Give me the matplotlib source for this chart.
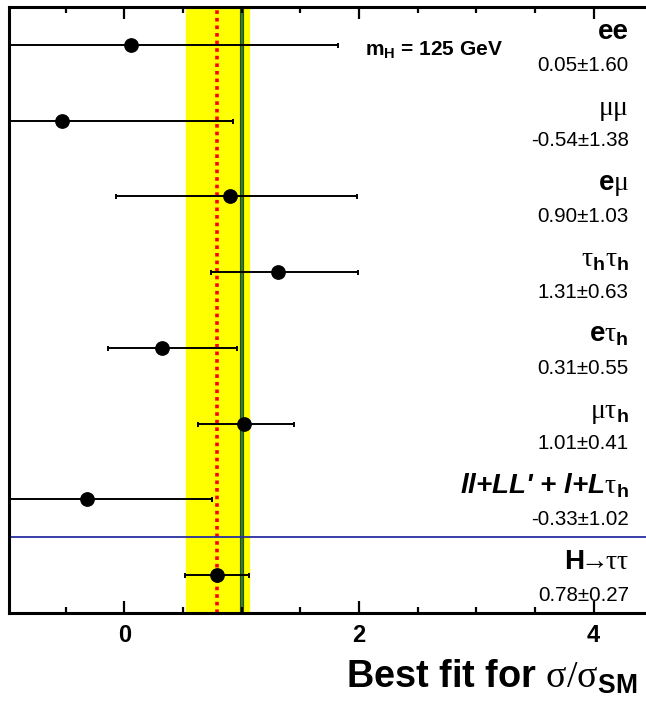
import numpy as np
import matplotlib
matplotlib.use("Agg")
import matplotlib.pyplot as plt
from matplotlib.ticker import MultipleLocator

plt.rcParams['font.family'] = ['Liberation Sans', 'DejaVu Sans']
plt.rcParams['mathtext.fontset'] = 'custom'
plt.rcParams['mathtext.rm'] = 'Liberation Sans'
plt.rcParams['mathtext.bf'] = 'Liberation Sans:bold'
plt.rcParams['mathtext.it'] = 'Liberation Sans:italic'
plt.rcParams['mathtext.sf'] = 'Liberation Serif'

# channels, top to bottom
names = [r"ee", r"$\mathsf{\mu\mu}$", r"e$\mathsf{\mu}$",
         r"$\mathsf{\tau}_{\mathbf{h}}\mathsf{\tau}_{\mathbf{h}}$",
         r"e$\mathsf{\tau}_{\mathbf{h}}$",
         r"$\mathsf{\mu\tau}_{\mathbf{h}}$",
         r"ll+LL' + l+L$\mathsf{\tau}_{\mathbf{h}}$",
         r"H$\!\!\mathsf{\rightarrow}\!\!\mathsf{\tau\tau}$"]
values = ["0.05\u00b11.60", "-0.54\u00b11.38", "0.90\u00b11.03", "1.31\u00b10.63",
          "0.31\u00b10.55", "1.01\u00b10.41", "-0.33\u00b11.02", "0.78\u00b10.27"]
best = [0.06, -0.53, 0.90, 1.31, 0.32, 1.02, -0.32, 0.787]
low = [-1.55, -1.92, -0.07, 0.74, -0.14, 0.63, -1.35, 0.52]
high = [1.82, 0.93, 1.98, 1.99, 0.96, 1.45, 0.75, 1.06]
italic = [False, False, False, False, False, False, True, False]

comb, comb_lo, comb_hi = 0.787, 0.523, 1.06
sm = 1.0

ypos = np.array([7.5, 6.5, 5.5, 4.5, 3.5, 2.5, 1.5, 0.5])
best = np.array(best)
low = np.array(low)
high = np.array(high)

fig = plt.figure(figsize=(6.46, 7.11), dpi=100)
x0px, scale = 124.4, 117.3
xmin, xmax = (9 - x0px) / scale, 4.7
ax = fig.add_axes([9 / 646, 98 / 711, (xmax - xmin) * scale / 646, 606 / 711])
ax.set_xlim(xmin, xmax)
ax.set_ylim(0, 8)

ax.axvspan(comb_lo, comb_hi, color='#ffff00', zorder=0)
ax.axvline(sm, color='#1f4d12', lw=3.0, zorder=1)
ax.axvline(sm, color='#3a7a22', lw=1.6, zorder=1)
ax.axvline(comb, color='#ff0000', lw=2.6, ls=(0, (1, 1.1)), zorder=2)
ax.axhline(1.0, color='#2a2fa0', lw=1.3, zorder=2)

ax.errorbar(best, ypos, xerr=[best - low, high - best], fmt='o', color='black',
            ms=9.6, elinewidth=1.4, capsize=1.8, capthick=1.4, zorder=3)

for y, n, v, it in zip(ypos, names, values, italic):
    ax.text(4.30, y + 0.08, n, ha='right', va='baseline', fontsize=20,
            fontweight='bold', fontstyle='italic' if it else 'normal')
    ax.text(4.30, y - 0.34, v, ha='right', va='baseline', fontsize=14.8)

ax.text(2.05, 7.36, r"m$_{\mathbf{H}}$ = 125 GeV", ha='left', va='baseline',
        fontsize=15, fontweight='bold')

ax.xaxis.set_major_locator(MultipleLocator(2))
ax.xaxis.set_minor_locator(MultipleLocator(0.5))
ax.set_yticks([])
ax.tick_params(axis='x', which='both', direction='in', top=True, width=1.6)
ax.tick_params(axis='x', which='major', length=8.5, pad=8, labelsize=17)
ax.tick_params(axis='x', which='minor', length=4.3)
for lab in ax.get_xticklabels():
    lab.set_fontweight('bold')
for s in ax.spines.values():
    s.set_linewidth(2.2)

fig.text(346 / 646, (711 - 687.7) / 711,
         r"Best fit for $\mathsf{\sigma/\sigma}_{\mathbf{SM}}$",
         ha='left', va='baseline', fontsize=27.3, fontweight='bold')

fig.savefig("out.png", dpi=100)
